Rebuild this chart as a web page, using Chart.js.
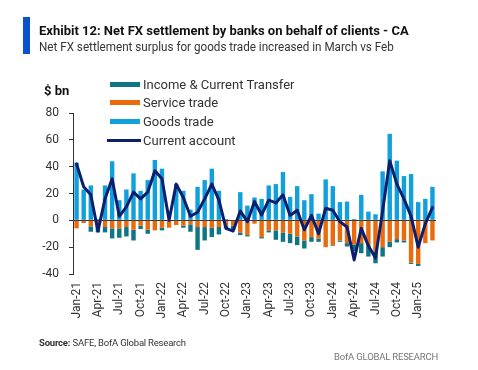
<!DOCTYPE html>
<html><head><meta charset="utf-8">
<script src="https://cdn.jsdelivr.net/npm/chart.js@4.4.1/dist/chart.umd.min.js"></script>
<style>
html,body{margin:0;padding:0;background:#fff;}
#wrap{position:relative;width:478px;height:370px;overflow:hidden;font-family:'Roboto',sans-serif;}
canvas{position:absolute;left:0;top:0;}
.t{position:absolute;white-space:nowrap;line-height:1;}
.leg{position:absolute;left:107px;height:19px;display:flex;align-items:center;font-size:13px;color:#333;white-space:nowrap;}
.sw{display:inline-block;width:30px;margin-right:3px;margin-left:3px;}
</style></head><body>
<div id="wrap">
<canvas id="c" width="478" height="370"></canvas>
<div style="position:absolute;left:23px;top:17px;width:7px;height:37px;background:#0a53c9"></div>
<div class="t" style="left:39px;top:24px;font-weight:bold;font-size:13px;color:#111">Exhibit 12: Net FX settlement by banks on behalf of clients - CA</div>
<div class="t" id="sub" style="left:39px;top:41px;font-size:12.5px;color:#333;transform-origin:0 50%">Net FX settlement surplus for goods trade increased in March vs Feb</div>
<div class="t" style="left:44px;top:84px;font-weight:bold;font-size:13px;color:#111">$ bn</div>
<div id="legend"></div>
<div class="t" style="left:39px;top:338px;font-size:9.5px;letter-spacing:-0.2px;color:#333"><b>Source:</b> SAFE, BofA Global Research</div>
<div class="t" style="right:40px;top:352px;font-size:9.5px;letter-spacing:-0.2px;color:#777">BofA GLOBAL RESEARCH</div>
</div>
<script>
const categories = ['Jan-21','Feb-21','Mar-21','Apr-21','May-21','Jun-21','Jul-21','Aug-21','Sep-21','Oct-21','Nov-21','Dec-21',
'Jan-22','Feb-22','Mar-22','Apr-22','May-22','Jun-22','Jul-22','Aug-22','Sep-22','Oct-22','Nov-22','Dec-22',
'Jan-23','Feb-23','Mar-23','Apr-23','May-23','Jun-23','Jul-23','Aug-23','Sep-23','Oct-23','Nov-23','Dec-23',
'Jan-24','Feb-24','Mar-24','Apr-24','May-24','Jun-24','Jul-24','Aug-24','Sep-24','Oct-24','Nov-24','Dec-24',
'Jan-25','Feb-25','Mar-25'];
const goodsTrade = [43,23,26,1,26,44,15,23,35,22,30,45,
38.5,0,27,22,8,25,30,38.5,22,1,0,21,
11,17,16,26,27,36,17.5,25.5,15,19.5,5,30.5,
25.5,13.6,14,1,19,6.5,4.5,36.5,64.5,44.5,33,34.5,
13.6,16,25];
const serviceTrade = [-6,-2,-4.5,-5,-5,-6,-6,-5,-7,-4,-7,-7.5,
-5.5,-5.5,-3.5,-4,-3,-5,-5,-5.5,-5,-4,-4,-9,
-11,-2.5,-12.5,-7.5,-7.5,-9,-10,-12,-15,-12.5,-13.5,-20,
-18.5,-15,-17,-18,-17,-19,-23,-20,-16,-14,-15,-31.5,
-32.5,-17,-15];
const incomeTransfer = [0,0,-4,-4,-4,-7.5,-7,-7,-8,-2.5,-3,0,
-2,0,0,-1.5,-5.5,-17,-10,-7,-5.5,-2,-3,-2,
-1,0,-1,-1.5,-7,-7,-7,-6.5,-6,-3.5,-2.5,0,
-0.5,-1,-2.5,-5,-7.5,-8,-9,-7,-4,-2.5,-1.5,-1,
-1.5,0,0];
const currentAccount = [42,25,19,-8,16,31,3,10,21,16,21,37,
31,0,27,17,3,6,16,27,15,-6,-8,7,
-1,14,4,15,13,19,3.5,7.5,-7,3.7,-10,9,
7.5,-1,-5,-29.5,-6,-19,-28,7,44.5,27,16,3,
-20,-2.5,9.5];
const yTicks = [-40,-20,0,20,40,60,80];
const xTickEvery = 3;

// fit subtitle width to the reference's
const sub = document.getElementById('sub');
sub.style.transform = 'scaleX(' + (355 / sub.getBoundingClientRect().width).toFixed(3) + ')';

const FONT = "'Roboto',sans-serif";
const C_INCOME='#0e7585', C_SERVICE='#ea6a0c', C_GOODS='#12a0dc', C_CA='#0b1f6e';

const barCommon = {type:'bar', order:1, barPercentage:0.62, categoryPercentage:1.0, borderWidth:0, stack:'s'};
const chart = new Chart(document.getElementById('c'), {
  data:{
    labels:categories,
    datasets:[
      {type:'line', label:'Current account', data:currentAccount, borderColor:C_CA, borderWidth:3, pointRadius:0, tension:0, order:0, stack:'ca', fill:false, borderJoinStyle:'round', borderCapStyle:'round'},
      Object.assign({label:'Service trade', data:serviceTrade, backgroundColor:C_SERVICE}, barCommon),
      Object.assign({label:'Income & Current Transfer', data:incomeTransfer, backgroundColor:C_INCOME}, barCommon),
      Object.assign({label:'Goods trade', data:goodsTrade, backgroundColor:C_GOODS}, barCommon)
    ]
  },
  options:{
    responsive:false, animation:false, devicePixelRatio:1,
    layout:{padding:{left:0,right:42,top:113,bottom:0}},
    plugins:{legend:{display:false}, tooltip:{enabled:false}},
    scales:{
      x:{stacked:true, offset:true, border:{display:false}, grid:{display:false, drawTicks:false},
         ticks:{autoSkip:false, maxRotation:90, minRotation:90, padding:8, color:'#333', font:{family:FONT,size:12},
           callback:function(v,i){return i%xTickEvery===0? this.getLabelForValue(v):'';}},
         afterFit:s=>{s.height=96;}},
      y:{stacked:true, min:yTicks[0], max:yTicks[yTicks.length-1],
         border:{display:true,color:'#333',width:1},
         grid:{drawOnChartArea:true, color:ctx=>(ctx.tick&&ctx.tick.value===0)?'#333':'rgba(0,0,0,0)', tickColor:'#333', tickLength:4, lineWidth:1},
         afterBuildTicks:s=>{s.ticks=yTicks.map(v=>({value:v}));},
         ticks:{color:'#333', padding:10, font:{family:FONT,size:12}},
         afterFit:s=>{s.width=73;}}
    }
  }
});

// HTML legend from dataset labels
const legendOrder = ['Income & Current Transfer','Service trade','Goods trade','Current account'];
const legendTops = [75,93,112,131];
const lg = document.getElementById('legend');
legendOrder.forEach((name,k)=>{
  const ds = chart.data.datasets.find(d=>d.label===name);
  const row = document.createElement('div');
  row.className='leg'; row.style.top=legendTops[k]+'px';
  const sw = document.createElement('span'); sw.className='sw';
  if(ds.type==='line'){ sw.style.height='2.5px'; sw.style.background=ds.borderColor; sw.style.width='34px'; sw.style.marginLeft='0px'; sw.style.marginRight='2px';}
  else { sw.style.height='5px'; sw.style.background=ds.backgroundColor; }
  row.appendChild(sw);
  const tx = document.createElement('span'); tx.textContent=name; row.appendChild(tx);
  lg.appendChild(row);
});
</script>
</body></html>
